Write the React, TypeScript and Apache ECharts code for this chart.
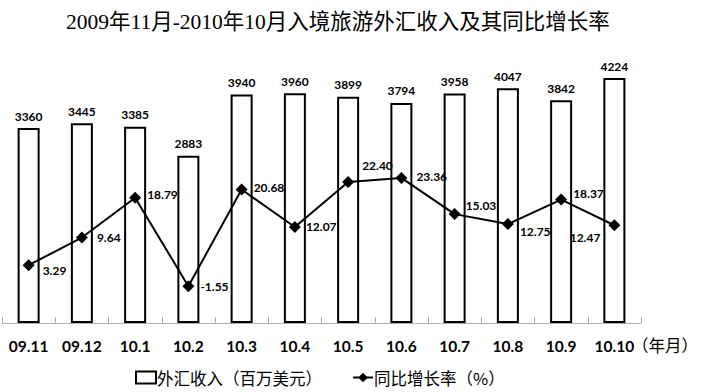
import React, { useEffect, useRef } from "react";
import * as echarts from "echarts";

const categories = ["09.11", "09.12", "10.1", "10.2", "10.3", "10.4", "10.5", "10.6", "10.7", "10.8", "10.9", "10.10"];
const incomeValues = [3360, 3445, 3385, 2883, 3940, 3960, 3899, 3794, 3958, 4047, 3842, 4224];
const growthValues = [3.29, 9.64, 18.79, -1.55, 20.68, 12.07, 22.40, 23.36, 15.03, 12.75, 18.37, 12.47];
const barName = "外汇收入（百万美元）";
const lineName = "同比增长率（%）";
const titleText = "2009年11月-2010年10月入境旅游外汇收入及其同比增长率";
const axisUnit = "（年月）";

// label placement (styling), by point index
const lineLabelPlacement: { pos: string; off: [number, number] }[] = [
  { pos: "right", off: [3, 5] },
  { pos: "right", off: [4, 0] },
  { pos: "right", off: [1, -3] },
  { pos: "right", off: [1, 0] },
  { pos: "right", off: [1, -2] },
  { pos: "right", off: [0, 0] },
  { pos: "right", off: [3, -17] },
  { pos: "right", off: [4, -1] },
  { pos: "right", off: [0, -9] },
  { pos: "right", off: [1, 7] },
  { pos: "right", off: [1, -6] },
  { pos: "left", off: [-3, 12] },
];

const FONT = "Lato, 'Liberation Sans', 'Noto Sans CJK SC', sans-serif";

export default function App() {
  const ref = useRef<HTMLDivElement>(null);
  useEffect(() => {
    if (!ref.current) return;
    const chart = echarts.init(ref.current, null, { renderer: "svg" });
    chart.setOption({
      animation: false,
      backgroundColor: "#ffffff",
      title: {
        text: titleText,
        left: 61,
        top: 6,
        textStyle: {
          fontFamily: "'Liberation Serif', 'Noto Sans CJK SC', serif",
          fontSize: 21.5,
          fontWeight: "normal",
          color: "#000",
        },
      },
      legend: {
        left: 135,
        top: 369,
        padding: 0,
        itemGap: 30,
        itemWidth: 20,
        itemHeight: 12,
        textStyle: {
          fontFamily: "'Noto Sans CJK SC', sans-serif",
          fontSize: 16.5,
          lineHeight: 17,
          color: "#000",
          padding: [0, 0, 0, -4],
        },
        data: [
          { name: barName, icon: "rect" },
          { name: lineName },
        ],
      },
      grid: { left: 2, right: 60, top: 62, bottom: 69, containLabel: false },
      xAxis: {
        type: "category",
        data: categories,
        axisLine: { lineStyle: { color: "#b0b0b0", width: 1 } },
        axisTick: { show: true, inside: true, length: 6, lineStyle: { color: "#b0b0b0" } },
        axisLabel: {
          margin: 15,
          fontFamily: FONT,
          fontWeight: "bold",
          fontSize: 15.5,
          color: "#000",
        },
      },
      yAxis: [
        { type: "value", min: 0, max: 4500, show: false, splitLine: { show: false } },
        { type: "value", min: -10, max: 50, show: false, splitLine: { show: false } },
      ],
      graphic: [
        {
          type: "text",
          left: 632,
          top: 337,
          style: { text: axisUnit, fontFamily: "'Noto Sans CJK SC', sans-serif", fontSize: 16.5, fill: "#000" },
        },
      ],
      series: [
        {
          name: barName,
          type: "bar",
          data: incomeValues,
          barWidth: 22,
          itemStyle: { color: "#ffffff", borderColor: "#000", borderWidth: 2 },
          label: {
            show: true,
            position: "top",
            distance: 6,
            fontFamily: FONT,
            fontWeight: "bold",
            fontSize: 12,
            color: "#000",
          },
        },
        {
          name: lineName,
          type: "line",
          yAxisIndex: 1,
          data: growthValues.map((v, i) => ({
            value: v,
            label: {
              position: lineLabelPlacement[i].pos,
              offset: lineLabelPlacement[i].off,
            },
          })),
          symbol: "diamond",
          symbolSize: 12,
          lineStyle: { color: "#000", width: 2 },
          itemStyle: { color: "#000" },
          label: {
            show: true,
            distance: 5,
            formatter: (p: any) => Number(p.value).toFixed(2),
            fontFamily: FONT,
            fontWeight: "bold",
            fontSize: 12,
            color: "#000",
          },
        },
      ],
    });
    return () => chart.dispose();
  }, []);
  return <div ref={ref} style={{ width: 701, height: 392, position: "absolute", left: 0, top: 0 }} />;
}
